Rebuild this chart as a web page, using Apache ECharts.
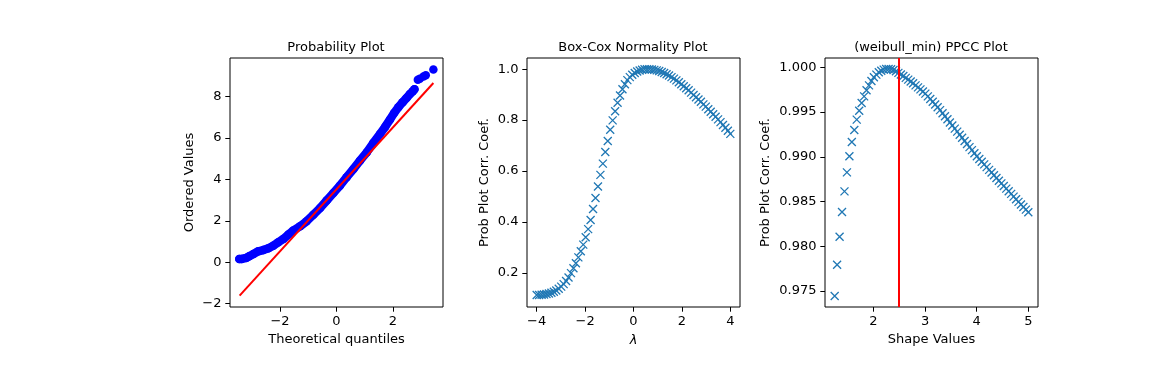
<!DOCTYPE html>
<html><head><meta charset="utf-8">
<script src="https://cdn.jsdelivr.net/npm/echarts/dist/echarts.min.js"></script>
<style>html,body{margin:0;padding:0;background:#fff}#c{width:1152px;height:384px}</style>
</head><body><div id="c"></div>
<script>
// ---- Probability plot (ordered values vs theoretical quantiles) ----
const probTheoretical = [-3.44,-3.35,-3.20,-3.09,-2.94,-2.77,-2.59,-2.41,-2.24,-2.06,-1.88,-1.70,-1.53,-1.29,-1.06,-0.82,-0.58,-0.35,-0.11,0.12,0.36,0.60,0.83,1.07,1.30,1.54,1.72,1.89,2.04,2.19,2.34,2.48,2.60,2.70,2.76,2.88,2.95,3.08,3.16,3.43];
const probOrdered     = [0.16,0.16,0.21,0.29,0.40,0.53,0.59,0.68,0.80,0.97,1.13,1.34,1.53,1.74,1.98,2.30,2.62,2.98,3.35,3.70,4.11,4.51,4.91,5.31,5.76,6.20,6.54,6.89,7.21,7.49,7.73,7.94,8.13,8.26,8.36,8.82,8.87,8.98,9.04,9.31];
const probBandCount = 35; // dense, continuous part of the sorted sample
const fitX = [-3.43, 3.43];
const fitY = [-1.61, 8.66];

// ---- Box-Cox normality plot ----
const boxcoxLambdas = [-4.000,-3.899,-3.797,-3.696,-3.595,-3.494,-3.392,-3.291,-3.190,-3.089,-2.987,-2.886,-2.785,-2.684,-2.582,-2.481,-2.380,-2.278,-2.177,-2.076,-1.975,-1.873,-1.772,-1.671,-1.570,-1.468,-1.367,-1.266,-1.165,-1.063,-0.962,-0.861,-0.759,-0.658,-0.557,-0.456,-0.354,-0.253,-0.152,-0.051,0.051,0.152,0.253,0.354,0.456,0.557,0.658,0.759,0.861,0.962,1.063,1.165,1.266,1.367,1.468,1.570,1.671,1.772,1.873,1.975,2.076,2.177,2.278,2.380,2.481,2.582,2.684,2.785,2.886,2.987,3.089,3.190,3.291,3.392,3.494,3.595,3.696,3.797,3.899,4.000];
const boxcoxPPCC = [0.113,0.113,0.114,0.115,0.117,0.119,0.122,0.126,0.131,0.138,0.146,0.156,0.168,0.182,0.199,0.218,0.238,0.261,0.285,0.311,0.340,0.372,0.408,0.451,0.494,0.539,0.585,0.629,0.675,0.718,0.762,0.799,0.835,0.868,0.897,0.921,0.941,0.957,0.969,0.978,0.985,0.991,0.995,0.998,0.9995,0.9999,0.9998,0.9990,0.9975,0.9955,0.9930,0.989,0.985,0.980,0.975,0.969,0.963,0.956,0.949,0.941,0.933,0.925,0.917,0.908,0.899,0.890,0.881,0.872,0.862,0.853,0.843,0.833,0.823,0.813,0.803,0.792,0.781,0.770,0.758,0.746];

// ---- (weibull_min) PPCC plot ----
const shapeValues = [1.250,1.297,1.345,1.392,1.440,1.487,1.535,1.582,1.630,1.677,1.725,1.772,1.820,1.867,1.915,1.962,2.009,2.057,2.104,2.152,2.199,2.247,2.294,2.342,2.389,2.437,2.484,2.532,2.579,2.627,2.674,2.722,2.769,2.816,2.864,2.911,2.959,3.006,3.054,3.101,3.149,3.196,3.244,3.291,3.339,3.386,3.434,3.481,3.528,3.576,3.623,3.671,3.718,3.766,3.813,3.861,3.908,3.956,4.003,4.051,4.098,4.146,4.193,4.241,4.288,4.335,4.383,4.430,4.478,4.525,4.573,4.620,4.668,4.715,4.763,4.810,4.858,4.905,4.953,5.000];
const shapePPCC = [0.97443,0.97794,0.98107,0.98382,0.98613,0.98826,0.99005,0.99165,0.99299,0.99415,0.99515,0.99601,0.99675,0.99743,0.99798,0.99847,0.99888,0.99918,0.99944,0.99962,0.99974,0.99981,0.99982,0.99978,0.99970,0.99955,0.99938,0.99920,0.99902,0.99882,0.99862,0.99841,0.99821,0.99798,0.99776,0.99753,0.99730,0.99706,0.99675,0.99645,0.99615,0.99585,0.99553,0.99521,0.99487,0.99453,0.99419,0.99384,0.99350,0.99315,0.99281,0.99246,0.99212,0.99177,0.99143,0.99108,0.99074,0.99039,0.99005,0.98975,0.98945,0.98915,0.98884,0.98854,0.98824,0.98794,0.98763,0.98733,0.98703,0.98674,0.98644,0.98614,0.98585,0.98555,0.98525,0.98496,0.98467,0.98438,0.98409,0.98380];
const shapeMarker = 2.5;

// ---- tick labels ----
const probXTicks = [-2, 0, 2];
const probYTicks = [-2, 0, 2, 4, 6, 8];
const boxXTicks = [-4, -2, 0, 2, 4];
const boxYTicks = [0.2, 0.4, 0.6, 0.8, 1.0];
const ppccXTicks = [2, 3, 4, 5];
const ppccYTicks = [0.975, 0.980, 0.985, 0.990, 0.995, 1.000];

const FONT = 'DejaVu Sans';
const FS = 13;
const zip = (a, b) => a.map((v, i) => [v, b[i]]);
const minus = s => String(s).replace('-', '\u2212');

function axis(gridIndex, min, max, ticks, fmt, name, nameGap, extraName) {
  return {
    type: 'value', gridIndex, min, max,
    axisLine: { show: false, onZero: false },
    splitLine: { show: false },
    axisTick: { show: true, inside: false, length: 4.7, customValues: ticks, lineStyle: { color: '#000', width: 1 } },
    axisLabel: { show: true, customValues: ticks, margin: 8.5, color: '#000', fontFamily: FONT, fontSize: FS, formatter: fmt },
    name, nameLocation: 'middle', nameGap,
    nameTextStyle: Object.assign({ color: '#000', fontFamily: FONT, fontSize: FS }, extraName || {})
  };
}

const grids = [
  { left: 230, top: 58, width: 213, height: 249 },
  { left: 527, top: 58, width: 213, height: 249 },
  { left: 825, top: 58, width: 213, height: 249 }
].map(g => Object.assign(g, { show: true, borderColor: '#000', borderWidth: 1, backgroundColor: 'transparent', containLabel: false }));

const titles = ['Probability Plot', 'Box-Cox Normality Plot', '(weibull_min) PPCC Plot'].map((t, i) => ({
  text: t, left: grids[i].left + grids[i].width / 2 - 5.5, textAlign: 'center', top: 36,
  textStyle: { color: '#000', fontFamily: FONT, fontSize: FS, fontWeight: 'normal' }
}));

const crossSymbol = 'path://M0,0L10,10M10,0L0,10';
const crossStyle = { color: 'rgba(0,0,0,0)', borderColor: '#1f77b4', borderWidth: 1.3, opacity: 1 };

const option = {
  animation: false,
  backgroundColor: '#fff',
  title: titles,
  grid: grids,
  xAxis: [
    axis(0, -3.77, 3.77, probXTicks, v => minus(v), 'Theoretical quantiles', 26),
    axis(1, -4.4, 4.4, boxXTicks, v => minus(v), '\u03bb', 27, { fontStyle: 'italic' }),
    axis(2, 1.0625, 5.1875, ppccXTicks, v => minus(v), 'Shape Values', 26)
  ],
  yAxis: [
    axis(0, -2.16, 9.87, probYTicks, v => minus(v), 'Ordered Values', 34),
    axis(1, 0.066, 1.044, boxYTicks, v => v.toFixed(1), 'Prob Plot Corr. Coef.', 36),
    axis(2, 0.97321, 1.00104, ppccYTicks, v => v.toFixed(3), 'Prob Plot Corr. Coef.', 53)
  ],
  series: [
    { type: 'line', xAxisIndex: 0, yAxisIndex: 0, data: zip(probTheoretical, probOrdered).slice(0, probBandCount),
      showSymbol: false, symbol: 'none', lineStyle: { color: '#0000ff', width: 8.5, cap: 'round', join: 'round', opacity: 1 }, silent: true, z: 2 },
    { type: 'scatter', xAxisIndex: 0, yAxisIndex: 0, data: zip(probTheoretical, probOrdered),
      symbol: 'circle', symbolSize: 8.5, itemStyle: { color: '#0000ff', opacity: 1 }, silent: true, z: 3 },
    { type: 'line', xAxisIndex: 0, yAxisIndex: 0, data: zip(fitX, fitY),
      showSymbol: false, symbol: 'none', lineStyle: { color: '#ff0000', width: 2 }, silent: true, z: 4 },
    { type: 'scatter', xAxisIndex: 1, yAxisIndex: 1, data: zip(boxcoxLambdas, boxcoxPPCC),
      symbol: crossSymbol, symbolSize: 8, itemStyle: crossStyle, silent: true },
    { type: 'scatter', xAxisIndex: 2, yAxisIndex: 2, data: zip(shapeValues, shapePPCC),
      symbol: crossSymbol, symbolSize: 8, itemStyle: crossStyle, silent: true,
      markLine: { symbol: 'none', silent: true, label: { show: false },
        lineStyle: { color: '#ff0000', width: 2, type: 'solid' }, data: [{ xAxis: shapeMarker }] } }
  ]
};

const chart = echarts.init(document.getElementById('c'), null, { renderer: 'canvas' });
chart.setOption(option);
</script>
</body></html>
